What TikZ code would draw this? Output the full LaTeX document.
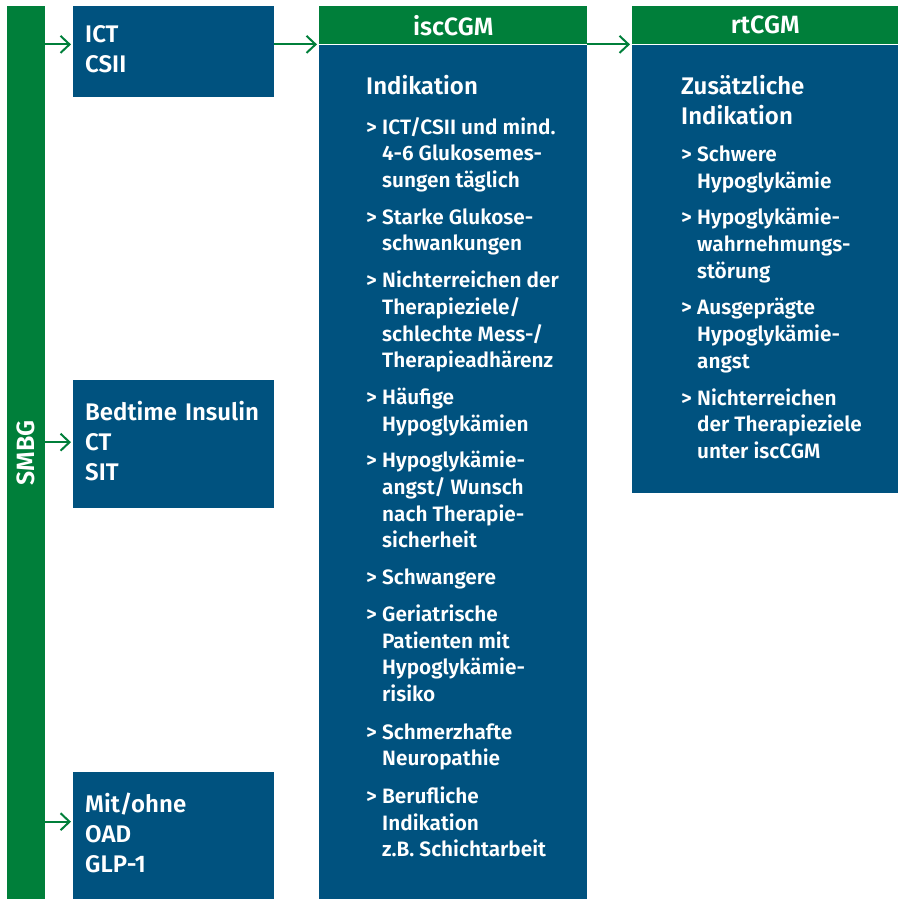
\documentclass[tikz,border=0pt]{standalone}
\usepackage{fontspec}
\setmainfont{Fira Sans}[UprightFont={* SemiBold}]
\usetikzlibrary{arrows.meta}

\definecolor{bzgreen}{HTML}{007F3A}
\definecolor{bzblue}{HTML}{00527F}

\newcommand{\itm}{>&}

\tikzset{
  bar/.style   = {fill=bzgreen, inner sep=0pt, anchor=north west},
  therapy/.style = {fill=bzblue, text=white, anchor=north west, align=left,
                    inner xsep=12pt, inner ysep=0pt, text width=177pt,
                    minimum height=#1, font=\fontsize{24}{30}\selectfont,
                    execute at end node={\par\vspace{6pt}}},
  head/.style  = {bar, text=white, minimum height=38pt,
                  font=\fontsize{25}{30}\selectfont},
  panel/.style = {fill=bzblue, anchor=north west, inner sep=0pt},
  crit/.style  = {text=white, anchor=north west, inner sep=0pt,
                  font=\fontsize{20.8}{26.7}\selectfont},
  flow/.style  = {draw=bzgreen, line width=2pt, shorten >=2pt,
                  -{Straight Barb[length=9pt,width=17pt,line width=2pt]}}
}

\begin{document}
\begin{tikzpicture}[x=1pt,y=-1pt]
\useasboundingbox (0,0) rectangle (898,899);

% SMBG bar
\node[bar, minimum width=38pt, minimum height=893pt] (smbg) at (7,6) {};
\node[rotate=90, text=white, font=\fontsize{25}{30}\selectfont] at (smbg.center) {SMBG};

% therapy forms
\node[therapy=91pt]  (ict)  at (73,6)   {ICT\\CSII};
\node[therapy=128pt] (bed)  at (73,380) {Bedtime Insulin\\CT\\SIT};
\node[therapy=127pt] (oad)  at (73,772) {Mit/ohne\\OAD\\GLP-1};

% iscCGM column
\node[head, minimum width=268pt] (ischead) at (319,6) {iscCGM};
\node[panel, minimum width=268pt, minimum height=855pt] (isc) at (ischead.south west) {};
\node[crit] (isclist) at (366,75) {%
  \begin{tabular}{@{}p{16pt}@{}l@{}}
  \multicolumn{2}{@{}l}{\fontsize{24}{30}\selectfont Indikation}\\[13pt]
  \itm ICT/CSII und mind.\\ & 4-6 Glukosemes-\\ & sungen täglich\\[10pt]
  \itm Starke Glukose-\\ & schwankungen\\[10pt]
  \itm Nichterreichen der\\ & Therapieziele/\\ & schlechte Mess-/\\ & Therapieadhärenz\\[10pt]
  \itm Häufige\\ & Hypoglykämien\\[10pt]
  \itm Hypoglykämie-\\ & angst/ Wunsch\\ & nach Therapie-\\ & sicherheit\\[10pt]
  \itm Schwangere\\[10pt]
  \itm Geriatrische\\ & Patienten mit\\ & Hypoglykämie-\\ & risiko\\[11pt]
  \itm Schmerzhafte\\ & Neuropathie\\[11pt]
  \itm Berufliche\\ & Indikation\\ & z.B. Schichtarbeit
  \end{tabular}};

% rtCGM column
\node[head, minimum width=266pt] (rthead) at (632,6) {rtCGM};
\node[panel, minimum width=266pt, minimum height=448pt] (rt) at (rthead.south west) {};
\node[crit] (rtlist) at (681,75) {%
  \begin{tabular}{@{}p{16pt}@{}l@{}}
  \multicolumn{2}{@{}l}{\fontsize{24}{30}\selectfont Zusätzliche}\\[3pt]
  \multicolumn{2}{@{}l}{\fontsize{24}{30}\selectfont Indikation}\\[10pt]
  \itm Schwere\\ & Hypoglykämie\\[10pt]
  \itm Hypoglykämie-\\ & wahrnehmungs-\\ & störung\\[10pt]
  \itm Ausgeprägte\\ & Hypoglykämie-\\ & angst\\[10pt]
  \itm Nichterreichen\\ & der Therapieziele\\ & unter iscCGM
  \end{tabular}};

% arrows
\draw[flow] (smbg.east |- isc.north) -- (ict.west |- isc.north);
\draw[flow] ([yshift=2pt]smbg.east |- bed.west) -- ([yshift=2pt]bed.west);
\draw[flow] ([yshift=14pt]smbg.east |- oad.west) -- ([yshift=14pt]oad.west);
\draw[flow] (ict.east |- isc.north) -- (isc.north west);
\draw[flow] (isc.north east) -- (isc.north east -| rt.west);
\end{tikzpicture}
\end{document}
